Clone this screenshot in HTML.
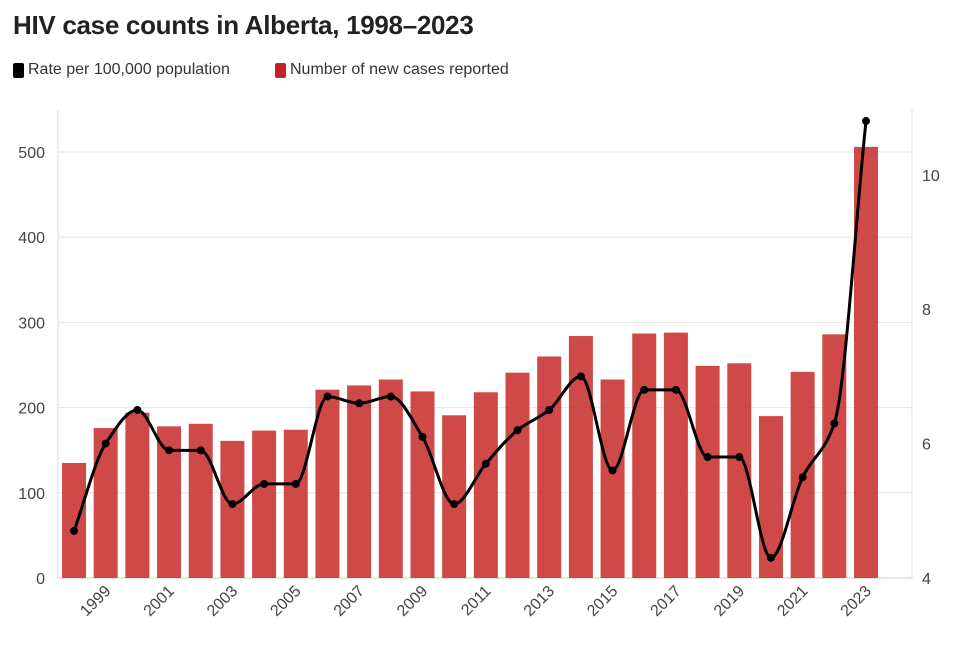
<!DOCTYPE html>
<html><head><meta charset="utf-8">
<style>
body{margin:0;background:#fff;font-family:"Liberation Sans",sans-serif;}
#wrap{position:relative;width:960px;height:650px;overflow:hidden;}
h1{position:absolute;left:13px;top:10px;margin:0;font-size:26px;font-weight:bold;color:#222;letter-spacing:-0.3px;}
.leg{position:absolute;top:61px;font-size:16px;color:#333;display:flex;align-items:center;}
.sw{width:11px;height:15px;border-radius:2px;margin-right:4px;display:inline-block;}
</style></head><body>
<div id="wrap">
<h1>HIV case counts in Alberta, 1998–2023</h1>
<div class="leg" style="left:13px"><span class="sw" style="background:#000"></span>Rate per 100,000 population</div>
<div class="leg" style="left:275px"><span class="sw" style="background:#c22323"></span>Number of new cases reported</div>
<svg id="chart" width="960" height="650" style="position:absolute;left:0;top:0"></svg>
</div>
<script>
const years=[1998,1999,2000,2001,2002,2003,2004,2005,2006,2007,2008,2009,2010,2011,2012,2013,2014,2015,2016,2017,2018,2019,2020,2021,2022,2023];
const cases=[135,176,194,178,181,161,173,174,221,226,233,219,191,218,241,260,284,233,287,288,249,252,190,242,286,506];
const rates=[4.7,6.0,6.5,5.9,5.9,5.1,5.4,5.4,6.7,6.6,6.7,6.1,5.1,5.7,6.2,6.5,7.0,5.6,6.8,6.8,5.8,5.8,4.3,5.5,6.3,10.8];
const leftTicks=[0,100,200,300,400,500];
const rightTicks=[4,6,8,10];
const NS="http://www.w3.org/2000/svg";
const svg=document.getElementById('chart');
const x0=74,step=31.68,bw=24;
const xS=i=>x0+i*step;
const yL=v=>578-v*0.852;
const yR=v=>578-(v-4)*67.2;
function mk(t,a){const e=document.createElementNS(NS,t);for(const k in a)e.setAttribute(k,a[k]);svg.appendChild(e);return e;}
leftTicks.forEach(t=>{
 if(t>0){const g=mk('line',{x1:58,x2:912,y1:yL(t),y2:yL(t),stroke:'#e6e6e6','stroke-width':1});
 
 }
 const l=mk('text',{x:45,y:yL(t)+6,'text-anchor':'end','font-size':16,fill:'#444'});
 l.textContent=t;
 
 
});
rightTicks.forEach(t=>{
 const l=mk('text',{x:922,y:yR(t)+6,'font-size':16,fill:'#444'});
 l.textContent=t;
 
 
});
mk('line',{x1:58,x2:58,y1:110,y2:578,stroke:'#ddd'});
mk('line',{x1:912,x2:912,y1:110,y2:578,stroke:'#ddd'});
const ax=mk('line',{x1:58,x2:912,y1:578,y2:578,stroke:'#ccc'});


cases.forEach((v,i)=>{
 const r=mk('rect',{x:xS(i)-bw/2,y:yL(v),width:bw,height:578-yL(v),fill:'#c83030','fill-opacity':0.88});
 
 
});
years.forEach((y,i)=>{
 if(y%2===1){
  const xx=xS(i);
  const t=mk('text',{x:xx+6,y:592,'text-anchor':'end','font-size':16,fill:'#444',transform:`rotate(-45 ${xx+6} 592)`});
  t.textContent=y;
  
  
 }
});
// monotone X curve
const P=rates.map((v,i)=>[xS(i),yR(v)]);
const n=P.length,d=[],m=[];
for(let i=0;i<n-1;i++)d.push((P[i+1][1]-P[i][1])/(P[i+1][0]-P[i][0]));
for(let i=0;i<n;i++){
 if(i===0)m.push(d[0]);else if(i===n-1)m.push(d[n-2]);
 else if(d[i-1]*d[i]<=0)m.push(0);
 else m.push(3*(d[i-1]+d[i])/2/ (1+ (d[i-1]*d[i]>0?1:1)) );
}
for(let i=1;i<n-1;i++){if(d[i-1]*d[i]>0){const a=d[i-1],b=d[i];m[i]=2/(1/a+1/b);}}
let path=`M${P[0][0]},${P[0][1]}`;
for(let i=0;i<n-1;i++){const h=(P[i+1][0]-P[i][0])/3;
 path+=` C${P[i][0]+h},${P[i][1]+m[i]*h} ${P[i+1][0]-h},${P[i+1][1]-m[i+1]*h} ${P[i+1][0]},${P[i+1][1]}`;}
const ln=mk('path',{d:path,fill:'none',stroke:'#000','stroke-width':3});


P.forEach((p,i)=>{
 const c=mk('circle',{cx:p[0],cy:p[1],r:4,fill:'#000'});
 
 
});
</script>
</body></html>
